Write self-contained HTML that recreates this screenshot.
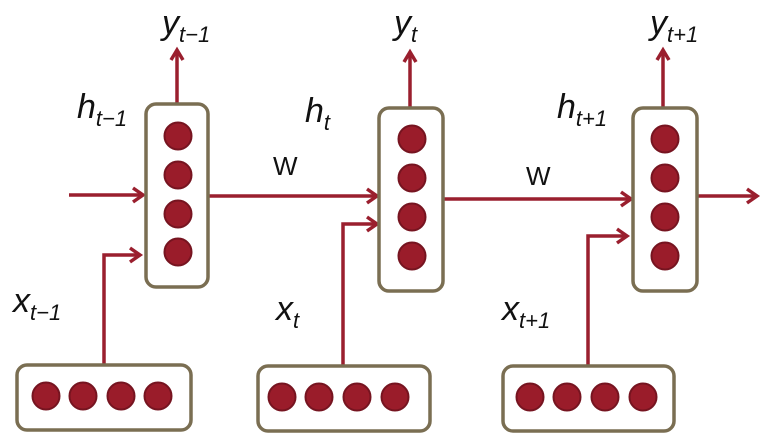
<!DOCTYPE html>
<html><head><style>
body{margin:0;background:#fff}
svg text{font-family:"Liberation Sans",sans-serif;fill:#111}
</style></head><body>
<svg width="778" height="441" viewBox="0 0 778 441" xmlns="http://www.w3.org/2000/svg">
<defs>
<marker id="a" viewBox="0 0 10 10" refX="9" refY="5" markerWidth="5" markerHeight="5" orient="auto" markerUnits="userSpaceOnUse" style="overflow:visible">
<path d="M-2,-8 L9,5 L-2,18" fill="none" stroke="#9a1f2e" stroke-width="3.3" transform="scale(0.8) translate(3,-1)"/>
</marker>
</defs>
<g stroke="#9a1f2e" stroke-width="3.5" fill="none" stroke-linecap="butt">
<!-- verticals up -->
<path d="M177,104 V50"/><path d="M171,60 L177,50 L183,60"/>
<path d="M410,108 V52"/><path d="M404,62 L410,52 L416,62"/>
<path d="M663,108 V50"/><path d="M657,60 L663,50 L669,60"/>
<!-- horizontals -->
<path d="M69,195 H143"/><path d="M133,188 L143,195 L133,202"/>
<path d="M209,196 H377"/><path d="M367,189 L377,196 L367,203"/>
<path d="M443,199 H631"/><path d="M621,192 L631,199 L621,206"/>
<path d="M697,196 H757"/><path d="M747,189 L757,196 L747,203"/>
<!-- inputs -->
<path d="M104,365 V255 H140"/><path d="M130,248 L140,255 L130,262"/>
<path d="M343,365 V224 H377"/><path d="M367,217 L377,224 L367,231"/>
<path d="M588,365 V236 H627"/><path d="M617,229 L627,236 L617,243"/>
</g>
<g fill="#fff" stroke="#7a6e52" stroke-width="3.5">
<rect x="146" y="104" width="62" height="183" rx="10"/>
<rect x="379" y="108" width="64" height="183" rx="10"/>
<rect x="633" y="108" width="64" height="183" rx="10"/>
<rect x="17" y="365" width="174" height="65" rx="10"/>
<rect x="258" y="366" width="172" height="65" rx="10"/>
<rect x="503" y="366" width="171" height="65" rx="10"/>
</g>
<g fill="#9a1c2a" stroke="#761420" stroke-width="2">
<circle cx="178" cy="136" r="13.5"/><circle cx="178" cy="175" r="13.5"/><circle cx="178" cy="214" r="13.5"/><circle cx="178" cy="252" r="13.5"/>
<circle cx="412" cy="139" r="13.5"/><circle cx="412" cy="178" r="13.5"/><circle cx="412" cy="217" r="13.5"/><circle cx="412" cy="256" r="13.5"/>
<circle cx="665" cy="139" r="13.5"/><circle cx="665" cy="178" r="13.5"/><circle cx="665" cy="217" r="13.5"/><circle cx="665" cy="256" r="13.5"/>
<circle cx="46" cy="396" r="13.5"/><circle cx="83" cy="396" r="13.5"/><circle cx="121" cy="396" r="13.5"/><circle cx="158" cy="396" r="13.5"/>
<circle cx="282" cy="397" r="13.5"/><circle cx="319" cy="397" r="13.5"/><circle cx="357" cy="397" r="13.5"/><circle cx="395" cy="397" r="13.5"/>
<circle cx="530" cy="397" r="13.5"/><circle cx="567" cy="397" r="13.5"/><circle cx="605" cy="397" r="13.5"/><circle cx="643" cy="397" r="13.5"/>
</g>
<g font-style="italic" font-size="34">
<text x="162" y="34">y<tspan font-size="22" dy="8">t−1</tspan></text>
<text x="394" y="34">y<tspan font-size="22" dy="8">t</tspan></text>
<text x="650" y="34">y<tspan font-size="22" dy="8">t+1</tspan></text>
<text x="77" y="118">h<tspan font-size="22" dy="8">t−1</tspan></text>
<text x="305" y="122">h<tspan font-size="22" dy="8">t</tspan></text>
<text x="557" y="118">h<tspan font-size="22" dy="8">t+1</tspan></text>
<text x="13" y="312">x<tspan font-size="22" dy="8">t−1</tspan></text>
<text x="276" y="320">x<tspan font-size="22" dy="8">t</tspan></text>
<text x="502" y="320">x<tspan font-size="22" dy="8">t+1</tspan></text>
</g>
<text x="273" y="175" font-size="26">W</text>
<text x="526" y="185" font-size="26">W</text>
</svg>
</body></html>
